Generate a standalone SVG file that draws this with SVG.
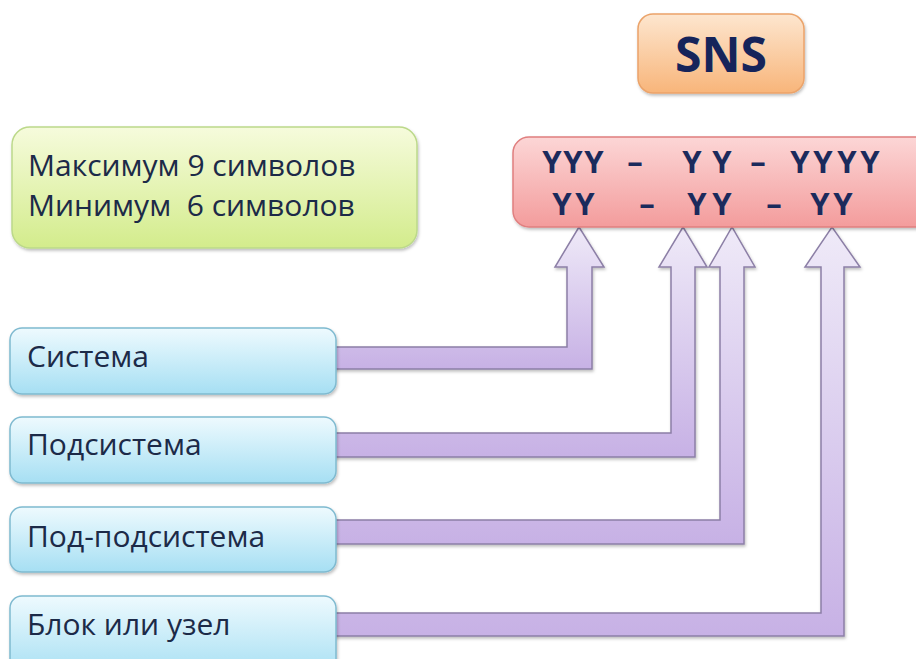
<svg xmlns="http://www.w3.org/2000/svg" width="916" height="659" viewBox="0 0 916 659">
<defs>
<linearGradient id="gOrange" x1="0" y1="0" x2="0" y2="1"><stop offset="0" stop-color="#fde6cf"/><stop offset="1" stop-color="#f8b57a"/></linearGradient>
<linearGradient id="gPink" x1="0" y1="0" x2="0" y2="1"><stop offset="0" stop-color="#fcd6d6"/><stop offset="1" stop-color="#f39c9c"/></linearGradient>
<linearGradient id="gGreen" x1="0" y1="0" x2="0" y2="1"><stop offset="0" stop-color="#f6fbdc"/><stop offset="1" stop-color="#d3ec8c"/></linearGradient>
<linearGradient id="gBlue" x1="0" y1="0" x2="0" y2="1"><stop offset="0" stop-color="#eefafe"/><stop offset="1" stop-color="#a6dff3"/></linearGradient>
<linearGradient id="gArrow" x1="0" y1="0" x2="0" y2="1"><stop offset="0" stop-color="#efeaf8"/><stop offset="1" stop-color="#c7b1e5"/></linearGradient>
<filter id="sh" x="-10%" y="-10%" width="120%" height="130%"><feDropShadow dx="1" dy="2" stdDeviation="1.5" flood-color="#000" flood-opacity="0.25"/></filter>
</defs>
<style>
.lbl{font-family:"Open Sans","Noto Sans","DejaVu Sans",sans-serif;font-size:30px;fill:#1c2a48}
.big{font-family:"Open Sans","Noto Sans","DejaVu Sans",sans-serif;font-size:30px;fill:#1c2a48;white-space:pre}
.yy{font-family:"Open Sans","Noto Sans","DejaVu Sans",sans-serif;font-size:31px;font-weight:bold;fill:#1b2a5c}
.sns{font-family:"Open Sans","Noto Sans","DejaVu Sans",sans-serif;font-size:48px;font-weight:bold;fill:#16245a}
.arrow{fill:url(#gArrow);stroke:#8c7fa6;stroke-width:1.5;stroke-linejoin:miter}
.blue{fill:url(#gBlue);stroke:#7fbad0;stroke-width:1.5}
</style>
<g id="connectors">
<path class="arrow" filter="url(#sh)" d="M330 347 H567 V267 H555 L579 227 L604 267 H592 V369 H330 Z"/>
<path class="arrow" filter="url(#sh)" d="M330 433 H671 V267 H659 L683 227 L707 267 H695 V457 H330 Z"/>
<path class="arrow" filter="url(#sh)" d="M330 520 H720 V267 H709 L732 227 L755 267 H744 V544 H330 Z"/>
<path class="arrow" filter="url(#sh)" d="M330 613 H821 V267 H805 L832 227 L860 267 H844 V636 H330 Z"/>
</g>
<g id="sns">
<rect x="638" y="14" width="166" height="79" rx="15" fill="url(#gOrange)" stroke="#eba36a" stroke-width="1.5" filter="url(#sh)"/>
<text class="sns" x="721" y="72" text-anchor="middle">SNS</text>
</g>
<g id="format">
<rect x="513" y="137" width="430" height="90" rx="16" fill="url(#gPink)" stroke="#e07f7f" stroke-width="1.5" filter="url(#sh)"/>
<text class="yy" y="173" text-anchor="middle" x="552 573 594 614 635 662 692 707 722 740 758 778 800 823 847 870">YYY – Y Y – YYYY</text>
<text class="yy" y="215" text-anchor="middle" x="562 585 616 647 672 697 722 748 774 797 820 843">YY – YY – YY</text>
</g>
<g id="limits">
<rect x="12" y="127" width="405" height="121" rx="18" fill="url(#gGreen)" stroke="#bcd98a" stroke-width="1.5" filter="url(#sh)"/>
<text class="big" x="28" y="176" xml:space="preserve">Максимум 9 символов</text>
<text class="big" x="28" y="216" xml:space="preserve">Минимум  6 символов</text>
</g>
<g id="sistema">
<rect class="blue" x="10" y="328" width="326" height="66" rx="12" filter="url(#sh)"/>
<text class="lbl" x="27" y="367">Система</text>
</g>
<g id="podsistema">
<rect class="blue" x="10" y="417" width="326" height="66" rx="12" filter="url(#sh)"/>
<text class="lbl" x="27" y="455">Подсистема</text>
</g>
<g id="podpodsistema">
<rect class="blue" x="10" y="507" width="326" height="65" rx="12" filter="url(#sh)"/>
<text class="lbl" x="27" y="547">Под-подсистема</text>
</g>
<g id="blok">
<rect class="blue" x="10" y="596" width="326" height="80" rx="12" filter="url(#sh)"/>
<text class="lbl" x="27" y="635">Блок или узел</text>
</g>
</svg>
